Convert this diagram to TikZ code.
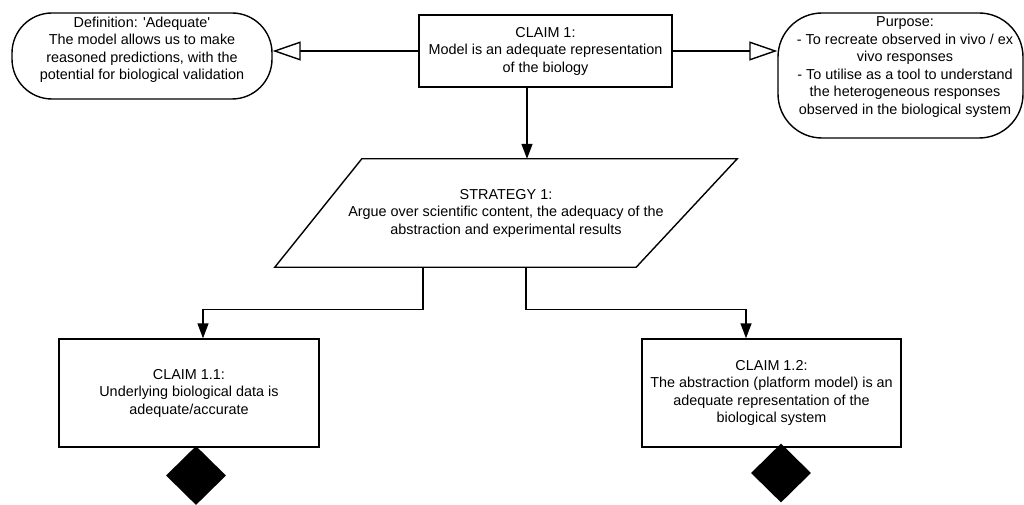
\documentclass[tikz,border=0pt]{standalone}
\usepackage{fontspec}
\newfontfamily\lsans{Liberation Sans}
\usetikzlibrary{arrows.meta,shapes.geometric}
\begin{document}
\begin{tikzpicture}[x=1pt,y=-1pt,
  every node/.style={font=\lsans\fontsize{14.4}{17.5}\selectfont,align=center,inner sep=0pt},
  wire/.style={line width=1.4pt,line join=miter},
  arr/.style={wire,-{Triangle[length=15pt,width=11pt]}},
  openarr/.style={wire,-{Triangle[open,length=28pt,width=19pt,fill=white]}},
  claimbox/.style={draw,line width=1.4pt,rectangle},
  notebox/.style={draw,line width=1.4pt,rectangle},
  goalend/.style={diamond,fill=black,minimum width=60pt,minimum height=59pt,inner sep=0pt}
]
\useasboundingbox (0,0) rectangle (1024,505);

% top claim and its side notes
\node[claimbox,minimum width=253pt,minimum height=72pt] (c1) at (545.5,51)
  {CLAIM 1:\\Model is an adequate representation\\of the biology};

\node[notebox,rounded corners=40pt,minimum width=260pt,minimum height=86pt] (def) at (142,56) {};
\node (deftext) at (142,50)
  {Definition: 'Adequate'\\The model allows us to make\\reasoned predictions, with the\\potential for biological validation};

\node[notebox,rounded corners=44pt,minimum width=245pt,minimum height=125pt] (pur) at (900.5,75.5) {};
\node (purtext) at (905,67)
  {Purpose:\\- To recreate observed in vivo / ex\\vivo responses\\- To utilise as a tool to understand\\the heterogeneous responses\\observed in the biological system};

% strategy parallelogram
\node[minimum width=462pt,minimum height=108pt] (s) at (506,213)
  {STRATEGY 1:\\Argue over scientific content, the adequacy of the\\abstraction and experimental results};
\draw[wire,line join=miter] ([xshift=87]s.north west) -- (s.north east)
  -- ([xshift=-101]s.south east) -- (s.south west) -- cycle;

% sub-claims
\node[claimbox,minimum width=260pt,minimum height=108pt] (c11) at (189,393)
  {CLAIM 1.1:\\Underlying biological data is\\adequate/accurate};
\node[claimbox,minimum width=259pt,minimum height=108pt] (c12) at (771.5,393)
  {CLAIM 1.2:\\The abstraction (platform model) is an\\adequate representation of the\\biological system};

% undeveloped markers
\node[goalend] (d1) at (196,475.5) {};
\node[goalend] (d2) at (781,473) {};

% connectors
\draw[openarr] (c1.west) -- (c1.west -| def.east);
\draw[openarr] (c1.east) -- (c1.east -| pur.west);
\draw[arr] ([xshift=-18.5]c1.south) -- ([xshift=21]s.north);
\draw[arr] ([xshift=-83]s.south) -- ++(0,42) -| ([xshift=14]c11.north);
\draw[arr] ([xshift=20]s.south) -- ++(0,42) -| ([xshift=-25.5]c12.north);
\end{tikzpicture}
\end{document}
